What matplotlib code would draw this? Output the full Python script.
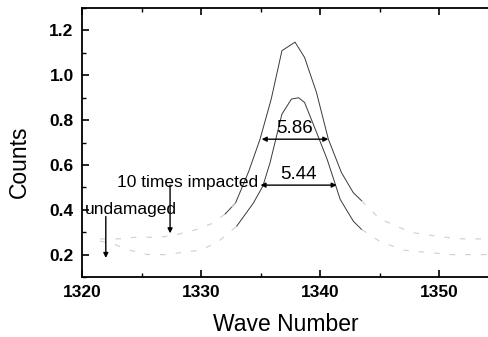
import matplotlib
matplotlib.use("Agg")
import matplotlib.pyplot as plt
import numpy as np
from matplotlib.ticker import MultipleLocator

plt.rcParams['font.family'] = ['Liberation Sans', 'DejaVu Sans']

# undamaged spectrum (inner peak)
x_undamaged = [1321.5, 1322.5, 1324, 1325.5, 1327, 1328.5, 1330, 1331.5, 1333.0, 1334.4,
               1335.2, 1335.8, 1336.8, 1337.6, 1338.2, 1338.7, 1339.6, 1340.6, 1341.7,
               1342.8, 1343.5, 1345, 1347, 1349, 1351, 1353, 1354.2]
y_undamaged = [0.26, 0.25, 0.22, 0.20, 0.20, 0.21, 0.22, 0.26, 0.327, 0.43,
               0.506, 0.61, 0.827, 0.894, 0.90, 0.879, 0.76, 0.625, 0.446,
               0.349, 0.312, 0.26, 0.22, 0.21, 0.20, 0.20, 0.20]

# 10 times impacted spectrum (outer peak)
x_impacted = [1321.5, 1323, 1325, 1326.3, 1328, 1329.5, 1331, 1332.0, 1332.9, 1334,
              1334.96, 1335.9, 1336.8, 1337.9, 1338.7, 1339.7, 1340.7, 1341.8, 1342.8,
              1343.5, 1345, 1347.6, 1350, 1352, 1354.2]
y_impacted = [0.27, 0.27, 0.28, 0.275, 0.29, 0.31, 0.34, 0.38, 0.43, 0.57,
              0.715, 0.894, 1.11, 1.148, 1.08, 0.924, 0.715, 0.566, 0.476,
              0.44, 0.36, 0.30, 0.28, 0.27, 0.27]

# FWHM markers: (left, right, height, label)
fwhm_impacted = (1335.1, 1340.7, 0.715, "5.86")
fwhm_undamaged = (1335.0, 1341.4, 0.51, "5.44")

fig = plt.figure(figsize=(4.89, 3.37), dpi=100)
ax = fig.add_axes([0.1677, 0.178, 0.8323, 0.798])

for xs, ys in [(x_undamaged, y_undamaged), (x_impacted, y_impacted)]:
    xs = np.array(xs)
    ys = np.array(ys)
    peak = (xs >= 1332) & (xs <= 1343.6)
    ax.plot(xs[peak], ys[peak], '-', color='#3a3a3a', linewidth=0.7)
    lo = xs <= 1333.1
    hi = xs >= 1343.4
    ax.plot(xs[lo], ys[lo], color='#cfcfcf', linewidth=0.8, dashes=(5, 9))
    ax.plot(xs[hi], ys[hi], color='#cfcfcf', linewidth=0.8, dashes=(5, 9))

for left, right, h, label in [fwhm_impacted, fwhm_undamaged]:
    ax.annotate('', xy=(left, h), xytext=(right, h),
                arrowprops=dict(arrowstyle='<|-|>', color='black', lw=1,
                                mutation_scale=7, shrinkA=0, shrinkB=0))
    ax.text((left + right) / 2, h + 0.01, label, ha='center', va='bottom',
            fontsize=13.5)

ax.text(1322.9, 0.52, "10 times impacted", fontsize=12.5, va='center')
ax.annotate('', xy=(1327.4, 0.295), xytext=(1327.4, 0.51),
            arrowprops=dict(arrowstyle='-|>', color='black', lw=1,
                            mutation_scale=7, shrinkA=0, shrinkB=0))
ax.text(1320.2, 0.40, "undamaged", fontsize=12.5, va='center')
ax.annotate('', xy=(1322.0, 0.185), xytext=(1322.0, 0.37),
            arrowprops=dict(arrowstyle='-|>', color='black', lw=1,
                            mutation_scale=7, shrinkA=0, shrinkB=0))

ax.set_xlim(1320, 1354.2)
ax.set_ylim(0.1, 1.3)
ax.xaxis.set_major_locator(MultipleLocator(10))
ax.xaxis.set_minor_locator(MultipleLocator(5))
ax.yaxis.set_major_locator(MultipleLocator(0.2))
ax.yaxis.set_minor_locator(MultipleLocator(0.1))
ax.yaxis.set_major_formatter(plt.FormatStrFormatter('%.1f'))
ax.tick_params(which='both', direction='in', top=True, right=False)
ax.tick_params(which='major', length=5, width=1.2, labelsize=12.5, pad=6)
ax.tick_params(which='minor', length=3, width=1)
for lab in ax.get_xticklabels() + ax.get_yticklabels():
    lab.set_fontweight('bold')
ax.spines['right'].set_visible(False)
for s in ['left', 'bottom', 'top']:
    ax.spines[s].set_linewidth(1.3)

ax.set_xlabel('Wave Number', fontsize=16.5, labelpad=9)
ax.set_ylabel('Counts', fontsize=16.5)
ax.yaxis.set_label_coords(-0.125, 0.43)

fig.savefig('out.png', dpi=100)
